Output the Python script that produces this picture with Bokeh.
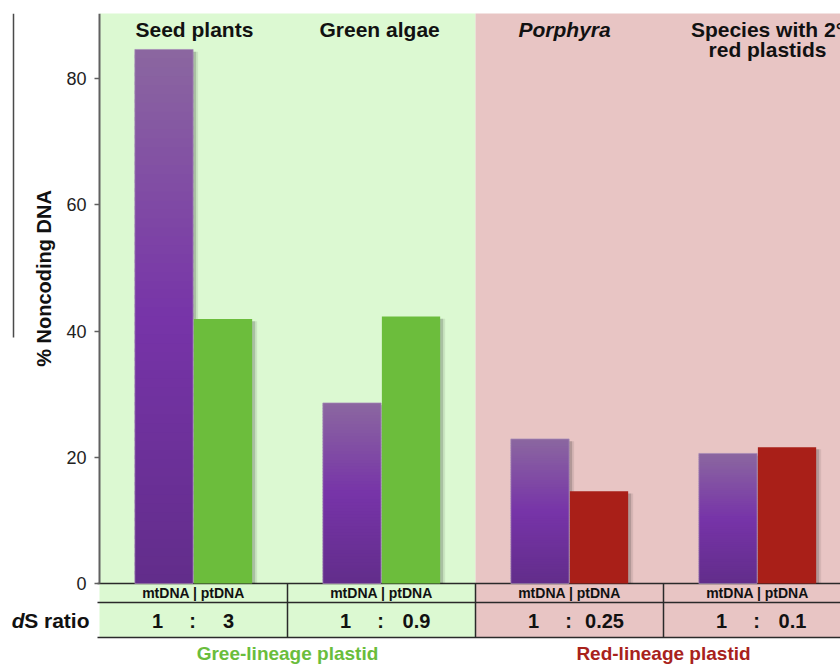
import math
from bokeh.plotting import figure
from bokeh.models import Range1d, FixedTicker, ColumnDataSource
from bokeh.core.properties import value
from bokeh.embed import file_html
from bokeh.resources import INLINE

# ---------------- data ----------------
groups = ["Seed plants", "Green algae", "Porphyra", "Species with 2°\nred plastids"]
mt_noncoding = [84.6, 28.6, 22.9, 20.6]
pt_noncoding = [41.9, 42.3, 14.6, 21.6]
ds_mt = ["1", "1", "1", "1"]
ds_pt = ["3", "0.9", "0.25", "0.1"]
table_header = "mtDNA | ptDNA"
lineages = ["Gree-lineage plastid", "Red-lineage plastid"]
lineage_of_group = [0, 0, 1, 1]
y_ticks = [0, 20, 40, 60, 80]
y_label = "% Noncoding DNA"
ratio_label_italic = "d"
ratio_label_rest = "S ratio"

# ---------------- styles ----------------
FONT = value("Liberation Sans")
panel_colors = ["#dcf9d2", "#e8c5c4"]
lineage_text_colors = ["#6abd3c", "#a8221c"]
pt_colors = ["#6cbd3c", "#a91f18"]
group_styles = ["bold", "bold", "bold italic", "bold"]
title_nudge = [0.005, -0.01, -0.026, 0.053]
purple_stops = [(0.0, "#8b67a0"), (0.5, "#7734a8"), (1.0, "#622d8b")]

# pixel geometry helpers (layout only)
X0, CAT, Y0, UNIT = 99.0, 188.0, 583.0, 6.3125
def dx(px):
    return (px - X0) / CAT
def dy(py):
    return (Y0 - py) / UNIT

BAR_W = 0.31
MT_OFF, PT_OFF = 0.5 - 0.157, 0.5 + 0.157

def hex2rgb(h):
    h = h.lstrip("#")
    return tuple(int(h[i:i + 2], 16) for i in (0, 2, 4))

def grad(t):
    for (t0, c0), (t1, c1) in zip(purple_stops[:-1], purple_stops[1:]):
        if t <= t1:
            f = (t - t0) / (t1 - t0)
            a, b = hex2rgb(c0), hex2rgb(c1)
            return "#%02x%02x%02x" % tuple(round(a[i] + (b[i] - a[i]) * f) for i in range(3))
    return purple_stops[-1][1]

p = figure(width=840, height=664,
           x_range=Range1d(dx(0), dx(840)), y_range=Range1d(dy(664), dy(13)),
           output_backend="svg", toolbar_location=None, x_axis_location=None,
           min_border_left=0, min_border_right=0, min_border_top=13, min_border_bottom=0)
p.outline_line_color = None
p.grid.visible = False
p.background_fill_color = "white"
p.border_fill_color = "white"

yax = p.yaxis[0]
yax.fixed_location = 0
yax.bounds = (0, dy(13))
yax.ticker = FixedTicker(ticks=y_ticks)
yax.minor_tick_line_color = None
yax.major_tick_out = 5
yax.major_tick_in = 0
yax.major_tick_line_color = "#606060"
yax.major_tick_line_width = 1.5
yax.axis_line_color = "#606060"
yax.axis_line_width = 2
yax.major_label_standoff = 8
yax.major_label_text_font = "Liberation Sans"
yax.major_label_text_font_size = "18px"
yax.major_label_text_color = "#222222"

# background panels per lineage
n = len(groups)
for li, name in enumerate(lineages):
    idx = [i for i in range(n) if lineage_of_group[i] == li]
    left, right = min(idx), max(idx) + 1
    if right == n:
        right = n + 0.5
    p.quad(left=left, right=right, bottom=dy(637), top=dy(13) + 1,
           fill_color=panel_colors[li], line_color=None)

# table lines
for yy in [0, dy(602), dy(637)]:
    p.segment(x0=dx(97), y0=yy, x1=n + 0.5, y1=yy, line_color="#2a2a2a", line_width=1.5)
for i in range(1, n):
    p.segment(x0=i, y0=dy(637), x1=i, y1=0, line_color="#2a2a2a", line_width=1.5)

# shadows
xs_mt = [i + MT_OFF for i in range(n)]
xs_pt = [i + PT_OFF for i in range(n)]
for off, alpha in [(5 / CAT, 0.08), (3 / CAT, 0.16)]:
    p.vbar(x=[x + off for x in xs_mt], width=BAR_W, bottom=0,
           top=[v - 0.35 for v in mt_noncoding], fill_color="black", fill_alpha=alpha, line_color=None)
    p.vbar(x=[x + off for x in xs_pt], width=BAR_W, bottom=0,
           top=[v - 0.35 for v in pt_noncoding], fill_color="black", fill_alpha=alpha, line_color=None)

# mtDNA bars with vertical gradient
N = 60
sx, sb, st, sc = [], [], [], []
for i, v in enumerate(mt_noncoding):
    for k in range(N):
        sx.append(xs_mt[i])
        sb.append(v * k / N)
        st.append(min(v, v * (k + 1) / N + v / N * 0.4))
        sc.append(grad(1 - (k + 0.5) / N))
p.vbar(x="x", width=BAR_W, bottom="b", top="t", fill_color="c", line_color=None,
       source=ColumnDataSource(dict(x=sx, b=sb, t=st, c=sc)))
p.vbar(x=xs_mt, width=BAR_W, bottom=0, top=mt_noncoding, fill_color=None,
       line_color="#a68cb6", line_width=1, line_alpha=0.7)

# ptDNA bars
p.vbar(x=xs_pt, width=BAR_W, bottom=0, top=pt_noncoding,
       fill_color=[pt_colors[lineage_of_group[i]] for i in range(n)], line_color=None)

# group titles
for i, name in enumerate(groups):
    for j, line in enumerate(name.split("\n")):
        p.text(x=[i + 0.5 + title_nudge[i]], y=[dy(28.5 + 20.5 * j)], text=[line],
               text_font=FONT, text_font_size="21px", text_font_style=group_styles[i],
               text_color="#111111", text_align="center", text_baseline="middle")

# table texts
cx = [i + 0.5 for i in range(n)]
p.text(x=cx, y=[dy(592)] * n, text=[table_header] * n, text_font=FONT, text_font_size="14px",
       text_font_style="bold", text_color="#111111", text_align="center", text_baseline="middle")
p.text(x=[c - 36 / CAT for c in cx], y=[dy(620)] * n, text=ds_mt, text_font=FONT, text_font_size="20px",
       text_font_style="bold", text_color="#111111", text_align="center", text_baseline="middle")
p.text(x=[c - 1 / CAT for c in cx], y=[dy(620)] * n, text=[":"] * n, text_font=FONT, text_font_size="20px",
       text_font_style="bold", text_color="#111111", text_align="center", text_baseline="middle")
p.text(x=[c + 35 / CAT for c in cx], y=[dy(620)] * n, text=ds_pt, text_font=FONT, text_font_size="20px",
       text_font_style="bold", text_color="#111111", text_align="center", text_baseline="middle")

# row label "dS ratio"
p.text(x=[dx(89)], y=[dy(620)], text=[ratio_label_rest], text_font=FONT, text_font_size="21px",
       text_font_style="bold", text_color="#111111", text_align="right", text_baseline="middle")
p.text(x=[dx(89 - 65)], y=[dy(620)], text=[ratio_label_italic], text_font=FONT, text_font_size="21px",
       text_font_style="bold italic", text_color="#111111", text_align="right", text_baseline="middle")

# lineage labels
for li, name in enumerate(lineages):
    idx = [i for i in range(n) if lineage_of_group[i] == li]
    p.text(x=[(min(idx) + max(idx) + 1) / 2], y=[dy(653)], text=[name], text_font=FONT,
           text_font_size="19px", text_font_style="bold", text_color=lineage_text_colors[li],
           text_align="center", text_baseline="middle")

# y axis label
p.text(x=[dx(43)], y=[dy(278)], text=[y_label], angle=math.pi / 2, text_font=FONT,
       text_font_size="20px", text_font_style="bold", text_color="#111111",
       text_align="center", text_baseline="middle")

# stray vertical rule at far left
p.segment(x0=dx(13), y0=dy(337), x1=dx(13), y1=dy(13), line_color="#4a4a4a", line_width=1.5)

open("out.html", "w").write(file_html(p, INLINE))
